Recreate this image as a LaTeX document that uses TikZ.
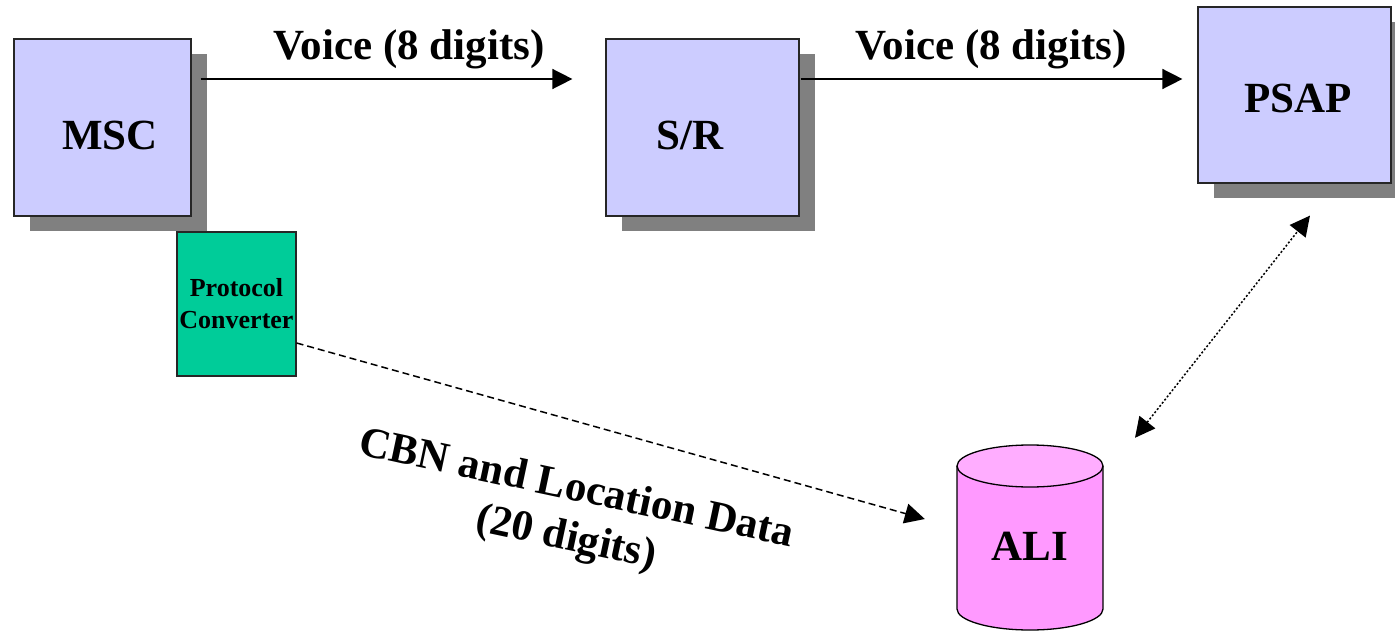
\documentclass[tikz,border=0pt]{standalone}
\usepackage{fontspec}
\setmainfont{Liberation Serif}
\usetikzlibrary{arrows.meta,shadows}
\definecolor{boxblue}{HTML}{CCCCFF}
\definecolor{shadowgray}{HTML}{808080}
\definecolor{convgreen}{HTML}{00CC99}
\definecolor{alipink}{HTML}{FF99FF}
\definecolor{alitop}{HTML}{FFADFF}
\begin{document}
\begin{tikzpicture}[x=1pt,y=-1pt,
  netbox/.style={draw=black!85, line width=1.2pt, fill=boxblue, inner sep=0pt,
    drop shadow={shadow xshift=15.5pt, shadow yshift=-15.5pt, fill=shadowgray, opacity=1}},
  convbox/.style={draw=black!85, line width=1.2pt, fill=convgreen, inner sep=0pt, align=center,
    font=\fontsize{26}{32}\selectfont\bfseries},
  bigtext/.style={font=\fontsize{43}{50}\selectfont\bfseries, inner sep=0pt},
  flow/.style={line width=1.5pt, -{Triangle[length=20pt,width=20pt]}},
  dataflow/.style={line width=1.5pt, dash pattern=on 7pt off 4pt, -{Triangle[length=20pt,width=20pt]}},
  queryflow/.style={line width=1.5pt, dash pattern=on 2pt off 2pt,
    {Triangle[length=20pt,width=20pt]}-{Triangle[length=20pt,width=20pt]}}
]
\useasboundingbox (0,0) rectangle (1395,631);

% boxes
\node[netbox, minimum width=177, minimum height=177] (msc) at (102.5,127.5) {};
\node[netbox, minimum width=193, minimum height=177] (sr) at (702.5,127.5) {};
\node[netbox, minimum width=193, minimum height=176] (psap) at (1294.5,95) {};
\node[bigtext, anchor=base] (msclabel) at (110,150) {MSC};
\node[bigtext, anchor=base] (srlabel) at (690,150) {S/R};
\node[bigtext, anchor=base] (psaplabel) at (1298,113) {PSAP};

\node[convbox, minimum width=119, minimum height=144] (conv) at (236.5,304) {Protocol\\Converter};

% ALI cylinder
\node[inner sep=0pt, minimum width=146, minimum height=185] (ali) at (1030,537.5) {};
\fill[alipink] (957,466) rectangle (1103,609);
\fill[alipink] (1030,609) ellipse (73 and 21);
\draw[line width=1.3pt] (957,466) -- (957,609) arc[start angle=180, end angle=0, x radius=73, y radius=21] -- (1103,466);
\draw[line width=1.3pt, fill=alitop] (1030,466) ellipse (73 and 21);
\node[bigtext, anchor=base] (alilabel) at (1030,560) {ALI};

% labels
\node[bigtext, anchor=base] (voice1) at (409,60) {Voice (8 digits)};
\node[bigtext, anchor=base] (voice2) at (991,60) {Voice (8 digits)};
\node[bigtext, align=center, rotate=-12] (cbn) at (571,515) {CBN and Location Data\\(20 digits)};

% connectors
\draw[flow] ([xshift=9pt,yshift=48.5pt]msc.east) -- ([xshift=-33pt,yshift=48.5pt]sr.west);
\draw[flow] ([xshift=1pt,yshift=48.5pt]sr.east) -- ([xshift=-15pt,yshift=16pt]psap.west);
\draw[dataflow] ([yshift=-39pt]conv.east) -- ([xshift=-32pt,yshift=18.5pt]ali.west);
\draw[queryflow] ([xshift=105pt,yshift=7pt]ali.north) -- ([xshift=15.5pt,yshift=-32pt]psap.south);
\end{tikzpicture}
\end{document}
